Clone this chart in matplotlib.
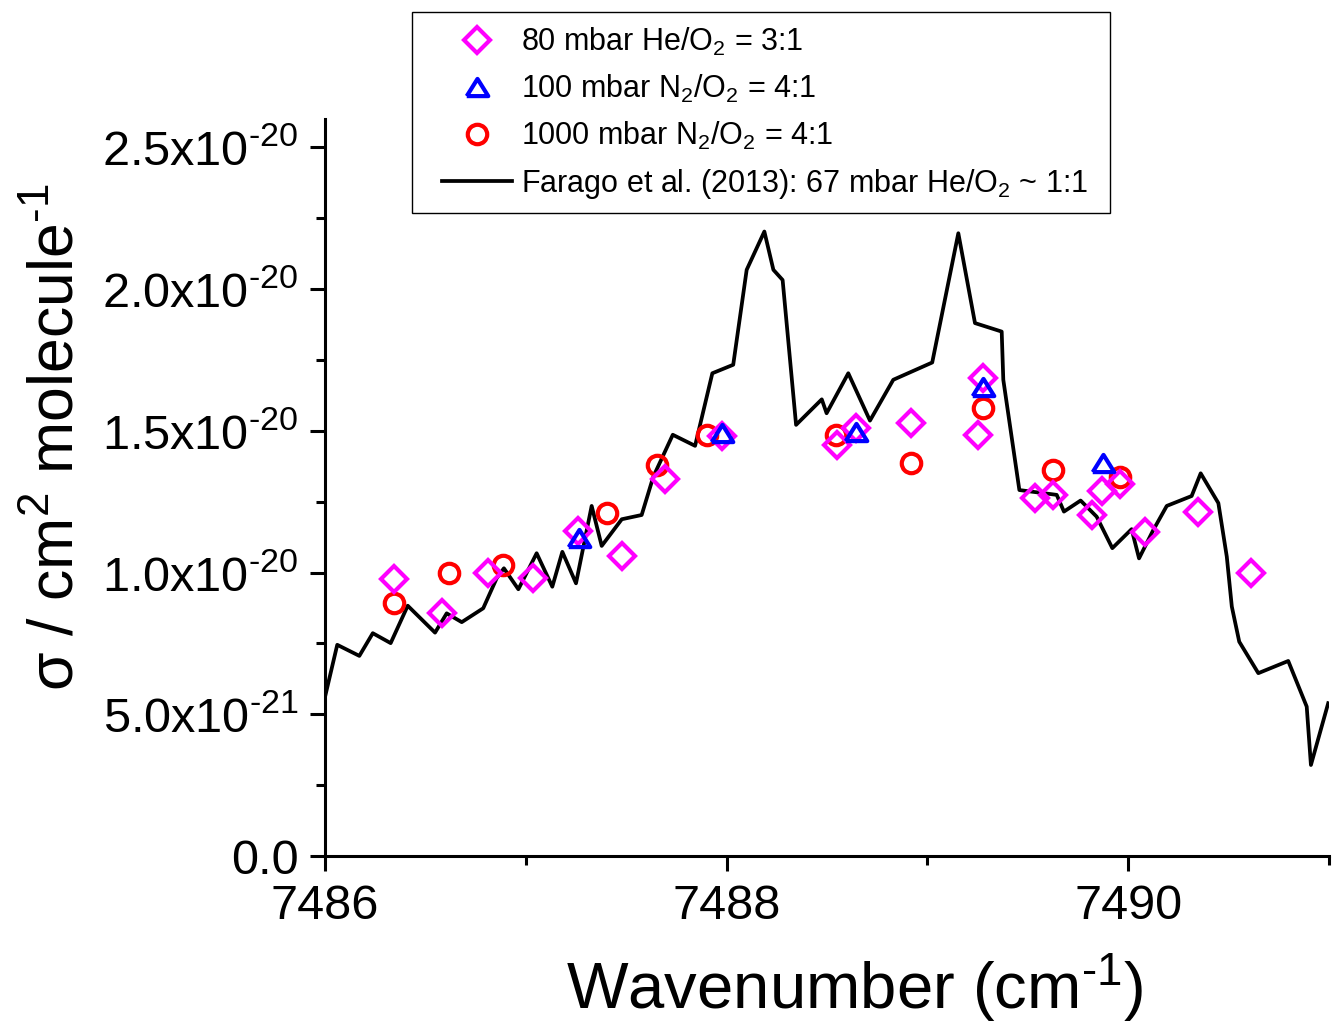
import numpy as np
import matplotlib
matplotlib.use("Agg")
import matplotlib.pyplot as plt
from matplotlib.patches import Rectangle

plt.rcParams['font.family'] = ['Liberation Sans', 'DejaVu Sans']
plt.rcParams['mathtext.fontset'] = 'custom'
plt.rcParams['mathtext.rm'] = 'Liberation Sans'
plt.rcParams['mathtext.it'] = 'Liberation Sans:italic'
plt.rcParams['mathtext.bf'] = 'Liberation Sans:bold'

SCALE = 1e-20  # values below are in units of 1e-20 cm^2 molecule^-1

# Farago et al. (2013) reference spectrum
farago_x = [7486.000, 7486.061, 7486.171, 7486.238, 7486.327, 7486.412, 7486.548, 7486.606,
            7486.681, 7486.788, 7486.855, 7486.891, 7486.963, 7487.054, 7487.132, 7487.182,
            7487.250, 7487.328, 7487.378, 7487.478, 7487.577, 7487.635, 7487.732, 7487.843,
            7487.929, 7488.033, 7488.100, 7488.188, 7488.233, 7488.279, 7488.346, 7488.474,
            7488.498, 7488.606, 7488.714, 7488.830, 7489.024, 7489.154, 7489.237, 7489.370,
            7489.378, 7489.458, 7489.644, 7489.680, 7489.763, 7489.843, 7489.921, 7490.017,
            7490.054, 7490.125, 7490.192, 7490.316, 7490.361, 7490.449, 7490.491, 7490.516,
            7490.553, 7490.648, 7490.797, 7490.889, 7490.910, 7490.996]
farago_y = [0.561, 0.745, 0.706, 0.786, 0.751, 0.883, 0.788, 0.856,
            0.825, 0.874, 0.980, 1.015, 0.941, 1.068, 0.950, 1.073,
            0.962, 1.235, 1.094, 1.188, 1.203, 1.338, 1.486, 1.447,
            1.703, 1.733, 2.068, 2.203, 2.068, 2.032, 1.521, 1.611,
            1.562, 1.703, 1.536, 1.680, 1.741, 2.197, 1.880, 1.850,
            1.680, 1.291, 1.274, 1.215, 1.254, 1.197, 1.086, 1.153,
            1.050, 1.150, 1.235, 1.270, 1.350, 1.245, 1.056, 0.880,
            0.756, 0.645, 0.688, 0.527, 0.321, 0.539]

# 80 mbar He/O2 = 3:1
he_x = [7486.344, 7486.581, 7486.813, 7487.037, 7487.261, 7487.478, 7487.693, 7487.975,
        7488.548, 7488.644, 7488.918, 7489.275, 7489.250, 7489.536, 7489.627, 7489.818,
        7489.868, 7489.959, 7490.084, 7490.349, 7490.610]
he_y = [0.976, 0.856, 1.000, 0.980, 1.148, 1.060, 1.329, 1.482,
        1.450, 1.511, 1.527, 1.686, 1.486, 1.262, 1.274, 1.203,
        1.288, 1.312, 1.144, 1.215, 0.998]

# 100 mbar N2/O2 = 4:1
n100_x = [7487.263, 7487.976, 7488.644, 7489.275, 7489.873]
n100_y = [1.123, 1.493, 1.496, 1.653, 1.386]

# 1000 mbar N2/O2 = 4:1
n1000_x = [7486.344, 7486.618, 7486.885, 7487.403, 7487.655, 7487.901, 7488.545, 7488.918,
           7489.275, 7489.624, 7489.959]
n1000_y = [0.894, 1.000, 1.027, 1.211, 1.380, 1.486, 1.486, 1.386,
           1.581, 1.362, 1.338]

xticks = [7486, 7488, 7490]
xtick_labels = ['7486', '7488', '7490']
yticks = [0.0, 0.5, 1.0, 1.5, 2.0, 2.5]
ytick_labels = ['0.0', r'$\mathregular{5.0x10^{\text{-}21}}$', r'$\mathregular{1.0x10^{\text{-}20}}$',
                r'$\mathregular{1.5x10^{\text{-}20}}$', r'$\mathregular{2.0x10^{\text{-}20}}$',
                r'$\mathregular{2.5x10^{\text{-}20}}$']

labels = [r'80 mbar He/O$_2$ = 3:1',
          r'100 mbar N$_2$/O$_2$ = 4:1',
          r'1000 mbar N$_2$/O$_2$ = 4:1',
          r'Farago et al. (2013): 67 mbar He/O$_2$ ~ 1:1']

W, H = 1342, 1033
fig = plt.figure(figsize=(W / 100, H / 100), dpi=100)
ax = fig.add_axes([325 / W, 1 - 856 / H, (1329 - 325) / W, (856 - 119) / H])

tri = [(-1, -0.8), (1, -0.8), (0, 0.8), (-1, -0.8)]

line, = ax.plot(farago_x, np.array(farago_y) * SCALE, color='black', lw=2.7, zorder=2)
circ, = ax.plot(n1000_x, np.array(n1000_y) * SCALE, ls='none', marker='o', ms=14,
                mfc='none', mec='red', mew=3.0, zorder=3)
dia, = ax.plot(he_x, np.array(he_y) * SCALE, ls='none', marker='D', ms=13,
               mfc='none', mec='#ff00ff', mew=3.0, zorder=4)
trih, = ax.plot(n100_x, np.array(n100_y) * SCALE, ls='none', marker=tri, ms=15.5,
                mfc='none', mec='blue', mew=3.0, zorder=5)

ax.set_xlim(7486, 7491)
ax.set_ylim(0, 2.6 * SCALE)
ax.set_xticks(xticks)
ax.set_xticklabels(xtick_labels)
ax.set_xticks([7487, 7489, 7491], minor=True)
ax.set_yticks(np.array(yticks) * SCALE)
ax.set_yticklabels(ytick_labels)
ax.set_yticks(np.arange(0.25, 2.6, 0.5) * SCALE, minor=True)

for s in ['top', 'right']:
    ax.spines[s].set_visible(False)
for s in ['left', 'bottom']:
    ax.spines[s].set_linewidth(2.2)

ax.tick_params(which='major', direction='out', length=11, width=2.2, labelsize=35)
ax.tick_params(which='minor', direction='out', length=6.5, width=2.2)
ax.tick_params(axis='x', which='major', pad=9)
ax.tick_params(axis='y', which='major', pad=8)

fig.text(855 / W, 1 - 988 / H, r'Wavenumber (cm$^{\text{-}1}$)', fontsize=47,
         ha='center', va='center')
fig.text(57 / W, 1 - 437 / H, r'σ / cm$^2$ molecule$^{\text{-}1}$', fontsize=45,
         ha='center', va='center', rotation=90)

# legend frame drawn separately (wider horizontal padding than matplotlib's default)
frame = Rectangle((412 / W, 1 - 213 / H), (1110 - 412) / W, (213 - 12) / H,
                  transform=fig.transFigure, facecolor='white', edgecolor='black',
                  lw=1.0, zorder=6, clip_on=False)
ax.add_patch(frame)
leg = ax.legend([dia, trih, circ, line], labels, loc='upper left',
                bbox_to_anchor=(428 / W, 1 - 12 / H), bbox_transform=fig.transFigure,
                fontsize=22, frameon=False, borderaxespad=0, handlelength=2.3,
                handletextpad=0.3, labelspacing=0.49, borderpad=0.45)
leg.set_zorder(7)

fig.savefig('out.png', dpi=100)
